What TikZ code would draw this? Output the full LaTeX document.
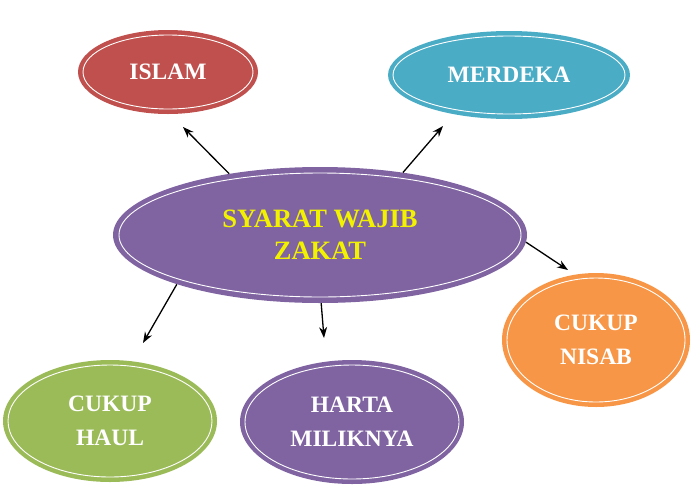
\documentclass[tikz,border=0pt]{standalone}
\usepackage{fontspec}
\setmainfont{Liberation Serif}
\usetikzlibrary{shapes.geometric,arrows.meta}
\definecolor{cred}{HTML}{C0504D}
\definecolor{caqua}{HTML}{4BACC6}
\definecolor{cpurple}{HTML}{8064A2}
\definecolor{cgreen}{HTML}{9BBB59}
\definecolor{corange}{HTML}{F79646}
\definecolor{cyel}{HTML}{F2F200}
\newcommand\innerring[3]{\draw[white,line width=0.9pt] (#1.center) ellipse [x radius=#2, y radius=#3];}
\begin{document}
\begin{tikzpicture}[x=1pt,y=-1pt,
  blob/.style={ellipse, draw=none, inner sep=0pt, align=center, text=white,
    font=\bfseries\fontsize{23.5}{34}\selectfont},
  arr/.style={-{Stealth[length=11pt,width=8pt]}, line width=1.3pt, black}]
\useasboundingbox (0,0) rectangle (700,498);
\node[blob, fill=cred, minimum width=180pt, minimum height=84pt] (islam) at (168,72) {ISLAM};
\innerring{islam}{85}{37}
\node[blob, fill=caqua, minimum width=242pt, minimum height=88pt] (merdeka) at (509,75) {MERDEKA};
\innerring{merdeka}{116}{39}
\node[blob, fill=cpurple, minimum width=414pt, minimum height=136pt, text=cyel,
  font=\bfseries\fontsize{26.5}{32}\selectfont] (c) at (320,235) {SYARAT WAJIB\\ZAKAT};
\innerring{c}{201}{62}
\node[blob, fill=corange, minimum width=188pt, minimum height=134pt] (nisab) at (596,340) {CUKUP\\NISAB};
\innerring{nisab}{89}{62}
\node[blob, fill=cgreen, minimum width=214pt, minimum height=122pt] (haul) at (110,421) {CUKUP\\HAUL};
\innerring{haul}{102}{56}
\node[blob, fill=cpurple, minimum width=224pt, minimum height=124pt] (harta) at (352,422) {HARTA\\MILIKNYA};
\innerring{harta}{107}{57}
\coordinate (t1) at (183,127);
\coordinate (t2) at (443,126);
\coordinate (t3) at (568,270);
\coordinate (t4) at (143,343);
\coordinate (t5) at (324,338);
\draw[arr] (c.146) -- (t1);
\draw[arr] (c.37) -- (t2);
\draw[arr] (c.358) -- (t3);
\draw[arr] (c.199) -- (t4);
\draw[arr] (c.271) -- (t5);
\end{tikzpicture}
\end{document}
